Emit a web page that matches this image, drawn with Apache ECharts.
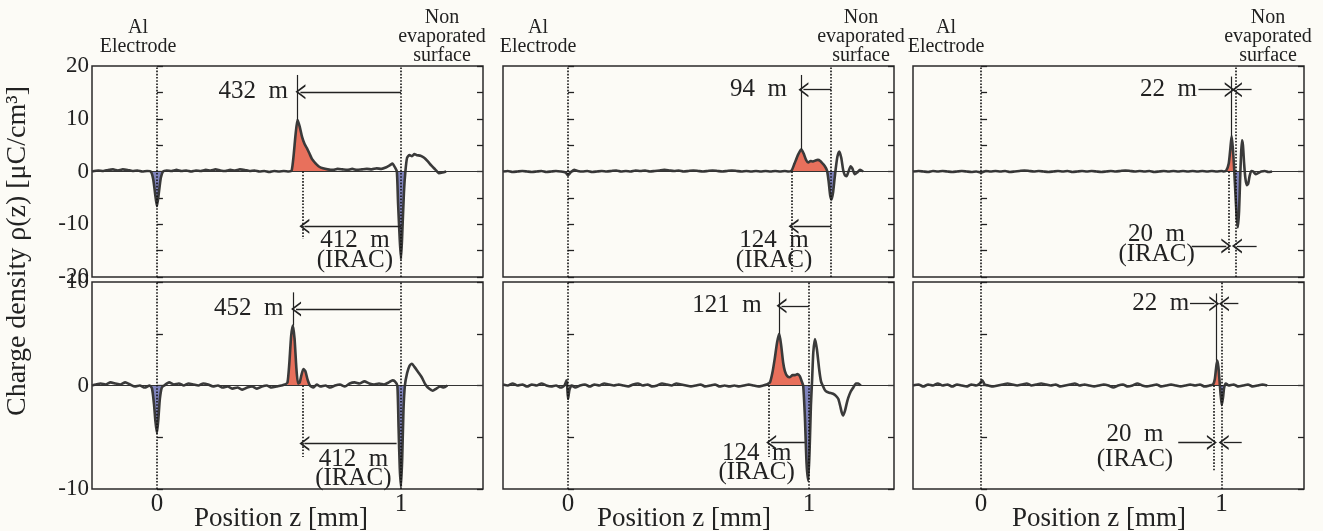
<!DOCTYPE html>
<html><head><meta charset="utf-8">
<script src="https://cdn.jsdelivr.net/npm/echarts@6/dist/echarts.min.js"></script>
<style>html,body{margin:0;padding:0;background:#fcfbf6}#c{width:1323px;height:531px}</style>
</head><body><div id="c"></div>
<script>
// ---------------- DATA ----------------
const xTickValues = [0, 1];
const headerLeft = 'Al\nElectrode';
const headerRight = 'Non\nevaporated\nsurface';
const xAxisTitle = 'Position z [mm]';
const yAxisTitle = 'Charge density ρ(z) [μC/cm³]';
const peakLabelsTop = ['432  m', '94  m', '22  m'];
const peakLabelsBottom = ['452  m', '121  m', '22  m'];
const iracLabels = ['412  m', '124  m', '20  m'];
const iracTag = '(IRAC)';

// column 1, top
const rhoA = [[-0.266,0.0],[-0.24,0.2],[-0.22,0.1],[-0.2,0.3],[-0.18,0.4],[-0.16,0.2],[-0.14,0.4],[-0.12,0.3],[-0.1,0.1],[-0.08,0.2],[-0.06,0.0],[-0.04,0.1],[-0.025,0.0],
[-0.015,-1.5],[-0.008,-4.0],[0.0,-6.6],[0.008,-4.0],[0.016,-1.2],[0.025,0.0],
[0.04,0.2],[0.06,0.1],[0.08,0.3],[0.1,0.1],[0.12,0.2],[0.14,0.0],[0.16,0.2],[0.18,0.1],[0.2,0.3],[0.22,0.2],[0.24,0.4],[0.26,0.2],[0.28,0.1],[0.3,0.3],[0.32,0.2],[0.34,0.4],[0.36,0.3],[0.38,0.1],[0.4,0.2],[0.42,0.0],[0.44,0.1],[0.46,-0.1],[0.48,0.1],[0.5,0.0],[0.52,0.1],[0.54,0.0],[0.552,0.2],
[0.56,3.0],[0.568,7.0],[0.576,9.8],[0.585,8.5],[0.595,6.5],[0.605,5.2],[0.615,4.4],[0.625,3.4],[0.635,2.4],[0.645,1.8],[0.655,1.3],[0.665,0.9],[0.68,0.6],[0.7,0.4],
[0.72,0.3],[0.74,0.5],[0.76,0.4],[0.78,0.3],[0.8,0.5],[0.82,0.3],[0.84,0.4],[0.86,0.5],[0.88,0.4],[0.9,0.6],[0.92,0.5],[0.94,0.8],[0.955,1.2],[0.965,1.5],[0.975,0.8],[0.983,0.0],
[0.988,-6],[0.995,-13],[1.0,-16.6],[1.005,-12],[1.012,-4],[1.018,0.0],
[1.025,2.6],[1.035,3.1],[1.045,2.9],[1.055,3.3],[1.065,3.1],[1.08,3.0],[1.095,2.6],[1.11,1.9],[1.125,1.1],[1.14,0.4],[1.155,-0.3],[1.17,-0.2],[1.185,0.0]];

// column 1, bottom
const rhoB = [[-0.266,0.0],[-0.25,0.1],[-0.23,0.2],[-0.21,0.1],[-0.19,0.3],[-0.17,0.2],[-0.15,0.1],[-0.13,0.3],[-0.11,0.1],[-0.09,-0.1],[-0.07,0.0],[-0.05,-0.2],[-0.03,0.0],[-0.02,-0.3],
[-0.012,-1.8],[-0.006,-3.5],[0.0,-4.6],[0.006,-3.2],[0.012,-1.3],[0.02,-0.2],
[0.03,0.0],[0.05,0.3],[0.07,0.1],[0.09,0.2],[0.11,0.0],[0.13,0.2],[0.15,0.1],[0.17,0.0],[0.19,0.2],[0.21,0.1],[0.23,-0.1],[0.25,0.0],[0.27,-0.2],[0.29,-0.1],[0.31,-0.3],[0.33,-0.2],[0.35,-0.4],[0.37,-0.2],[0.39,-0.1],[0.41,-0.3],[0.43,-0.1],[0.45,0.0],[0.47,-0.2],[0.49,-0.1],[0.51,0.0],[0.525,0.1],[0.535,0.3],
[0.542,2.0],[0.55,4.8],[0.557,5.8],[0.564,4.5],[0.571,1.8],[0.578,0.2],[0.585,0.3],
[0.592,1.0],[0.6,1.6],[0.608,1.4],[0.617,0.6],[0.627,0.0],[0.64,-0.2],[0.655,0.1],
[0.67,-0.1],[0.69,0.0],[0.71,-0.2],[0.73,0.0],[0.75,0.1],[0.77,-0.1],[0.79,0.2],[0.81,0.3],[0.83,0.2],[0.85,0.4],[0.87,0.2],[0.89,0.1],[0.91,0.2],[0.93,0.1],[0.95,0.3],[0.965,0.5],[0.975,0.4],[0.985,0.0],
[0.99,-4],[0.995,-8],[1.0,-9.8],[1.005,-7],[1.01,-2.5],[1.016,0.0],
[1.025,1.2],[1.035,1.9],[1.045,2.1],[1.055,1.8],[1.07,1.3],[1.085,0.8],[1.1,0.1],[1.115,-0.3],[1.13,-0.5],[1.145,-0.3],[1.16,-0.1],[1.175,-0.2],[1.19,0.0]];

// column 2, top
const rhoC = [[-0.27,0.0],[-0.25,0.1],[-0.23,-0.1],[-0.21,0.0],[-0.19,0.1],[-0.17,0.0],[-0.15,-0.1],[-0.13,0.0],[-0.11,0.1],[-0.09,-0.1],[-0.07,0.0],[-0.05,0.1],[-0.03,0.0],[-0.01,-0.2],[0.0,-0.7],[0.01,-0.2],[0.025,0.3],[0.04,0.1],[0.06,0.0],[0.08,0.1],[0.1,-0.1],[0.12,0.0],[0.14,0.1],[0.16,0.0],[0.18,0.1],[0.2,0.2],[0.22,0.0],[0.24,0.1],[0.26,0.0],[0.28,0.2],[0.3,0.1],[0.32,0.2],[0.34,0.0],[0.36,0.1],[0.38,0.2],[0.4,0.3],[0.42,0.2],[0.44,0.1],[0.46,0.2],[0.48,0.0],[0.5,0.1],[0.52,0.2],[0.54,0.1],[0.56,0.0],[0.58,0.1],[0.6,0.2],[0.62,0.1],[0.64,0.0],[0.66,0.1],[0.68,0.2],[0.7,0.1],[0.72,0.0],[0.74,0.1],[0.76,0.0],[0.78,0.1],[0.8,0.0],[0.82,0.1],[0.84,0.0],[0.86,0.1],[0.88,0.0],[0.9,0.1],[0.915,0.0],[0.928,0.2],
[0.94,1.5],[0.955,3.2],[0.968,4.2],[0.978,3.4],[0.988,2.2],[0.997,1.7],[1.007,2.0],[1.017,1.9],[1.027,2.1],[1.037,2.2],[1.047,2.0],[1.057,1.5],[1.066,1.0],[1.075,0.2],
[1.082,-2.0],[1.088,-4.5],[1.094,-5.3],[1.1,-4.0],[1.106,-1.5],[1.111,0.5],
[1.118,2.8],[1.126,3.8],[1.134,2.6],[1.142,0.3],[1.149,-0.7],[1.156,-0.9],[1.164,0.0],[1.173,1.0],[1.18,0.6],[1.19,-0.5],[1.2,-0.2],[1.212,0.3],[1.225,0.0]];

// column 2, bottom
const rhoD = [[-0.27,0.1],[-0.25,0.0],[-0.23,0.2],[-0.21,0.0],[-0.19,0.1],[-0.17,-0.1],[-0.15,0.1],[-0.13,0.0],[-0.11,0.2],[-0.09,0.0],[-0.07,-0.1],[-0.05,0.0],[-0.03,-0.2],[-0.015,0.0],[-0.006,0.5],[0.0,-1.3],[0.006,-0.4],[0.015,0.0],[0.03,-0.2],[0.05,0.0],[0.07,0.1],[0.09,-0.1],[0.11,0.1],[0.13,0.0],[0.15,0.2],[0.17,0.1],[0.19,0.0],[0.21,0.1],[0.23,0.0],[0.25,-0.1],[0.27,0.1],[0.29,0.2],[0.31,0.0],[0.33,0.1],[0.35,-0.1],[0.37,0.0],[0.39,0.2],[0.41,0.1],[0.43,0.0],[0.45,0.2],[0.47,0.1],[0.49,0.0],[0.51,-0.1],[0.53,0.0],[0.55,0.1],[0.57,-0.1],[0.59,0.0],[0.61,0.1],[0.63,-0.1],[0.65,0.0],[0.67,-0.1],[0.69,0.0],[0.71,-0.1],[0.73,0.0],[0.75,0.1],[0.77,0.0],[0.79,-0.1],[0.81,0.0],[0.825,0.1],[0.838,0.3],
[0.848,1.2],[0.858,2.6],[0.868,4.2],[0.877,5.0],[0.885,3.8],[0.893,2.2],[0.9,1.4],[0.91,0.9],[0.921,0.8],[0.932,1.0],[0.942,1.0],[0.952,1.1],[0.962,0.9],[0.97,0.4],[0.976,0.0],
[0.983,-3],[0.99,-7.5],[0.997,-9.2],[1.003,-6],[1.008,-2],[1.013,0.5],
[1.018,3.2],[1.025,4.5],[1.033,3.5],[1.043,1.45],[1.05,0.4],[1.057,0.0],[1.065,-0.4],[1.073,-0.6],[1.085,-0.7],[1.1,-0.8],[1.112,-1.0],[1.122,-1.3],[1.13,-2.0],[1.136,-2.6],[1.142,-2.9],[1.15,-2.4],[1.157,-1.7],[1.163,-1.2],[1.173,-0.6],[1.184,-0.2],[1.195,0.2],[1.205,0.2],[1.215,0.0]];

// column 3, top
const rhoE = [[-0.283,0.0],[-0.26,0.1],[-0.24,0.0],[-0.22,-0.1],[-0.2,0.1],[-0.18,0.0],[-0.16,0.1],[-0.14,0.0],[-0.12,-0.1],[-0.1,0.0],[-0.08,0.1],[-0.06,0.0],[-0.04,-0.1],[-0.02,0.0],[0.0,-0.2],[0.02,0.1],[0.04,0.0],[0.06,0.1],[0.08,0.0],[0.1,0.1],[0.12,-0.1],[0.14,0.0],[0.16,0.1],[0.18,0.2],[0.2,0.1],[0.22,0.0],[0.24,0.1],[0.26,0.0],[0.28,-0.1],[0.3,0.0],[0.32,0.1],[0.34,0.0],[0.36,0.1],[0.38,-0.1],[0.4,0.0],[0.42,0.1],[0.44,0.0],[0.46,0.1],[0.48,0.0],[0.5,-0.1],[0.52,0.0],[0.54,0.1],[0.56,0.0],[0.58,0.1],[0.6,0.2],[0.62,0.1],[0.64,0.0],[0.66,0.1],[0.68,0.0],[0.7,0.1],[0.72,-0.1],[0.74,0.0],[0.76,0.1],[0.78,0.0],[0.8,0.1],[0.82,0.0],[0.84,0.1],[0.86,0.0],[0.88,0.1],[0.9,0.0],[0.92,0.1],[0.94,0.0],[0.96,0.1],[0.98,0.0],[1.0,0.1],[1.01,0.0],[1.02,0.2],
[1.03,1.5],[1.036,4.0],[1.042,6.7],[1.047,4.5],[1.052,1.0],[1.057,-3.5],[1.063,-8.5],[1.068,-10.6],[1.073,-7.5],[1.077,-2.0],[1.081,3.0],[1.085,5.9],[1.089,5.0],[1.094,1.5],[1.099,-1.2],[1.105,-2.6],[1.111,-2.3],[1.117,-0.8],[1.124,0.1],[1.132,0.0],[1.142,-0.5],[1.152,-0.3],[1.165,0.0],[1.18,0.1],[1.195,-0.1],[1.21,0.0]];

// column 3, bottom
const rhoF = [[-0.283,0.0],[-0.26,0.1],[-0.24,-0.1],[-0.22,0.1],[-0.2,0.0],[-0.18,0.2],[-0.16,0.0],[-0.14,0.1],[-0.12,-0.1],[-0.1,0.1],[-0.08,0.0],[-0.06,-0.1],[-0.04,0.1],[-0.02,0.0],[-0.005,0.2],[0.005,0.5],[0.015,0.1],[0.03,0.0],[0.05,-0.1],[0.07,0.0],[0.09,0.1],[0.11,0.2],[0.13,0.1],[0.15,0.0],[0.17,0.1],[0.19,0.2],[0.21,0.0],[0.23,0.1],[0.25,0.2],[0.27,0.1],[0.29,0.0],[0.31,0.1],[0.33,-0.1],[0.35,0.0],[0.37,0.1],[0.39,0.2],[0.41,0.0],[0.43,0.1],[0.45,0.0],[0.47,-0.1],[0.49,0.0],[0.51,0.1],[0.53,0.0],[0.55,-0.2],[0.57,0.0],[0.59,0.1],[0.61,-0.1],[0.63,0.0],[0.65,0.2],[0.67,0.0],[0.69,-0.1],[0.71,0.0],[0.73,0.1],[0.75,-0.1],[0.77,0.0],[0.79,0.1],[0.81,0.0],[0.83,-0.1],[0.85,0.0],[0.87,0.1],[0.89,0.0],[0.91,0.1],[0.93,-0.1],[0.95,0.0],[0.965,0.1],
[0.972,0.6],[0.977,1.6],[0.982,2.4],[0.987,1.8],[0.992,0.4],[0.996,-0.8],[1.001,-1.9],[1.006,-1.2],[1.011,-0.2],[1.018,0.2],[1.03,0.0],[1.05,0.1],[1.07,-0.1],[1.09,0.0],[1.11,0.1],[1.13,-0.1],[1.15,0.0],[1.17,0.1],[1.19,0.0]];

// ---------------- STYLE / LAYOUT ----------------
const SERIF = '"Liberation Serif", "Times New Roman", serif';
const INK = '#222222';
const LINE = '#3a3a3a';
const RED = '#e8705c';
const BLUE = '#8084bd';
const CHEV = 'path://M0,10 L5,0 L10,10 L8.6,10 L5,2.8 L1.4,10 Z';

const cols = [{left:92, x0:-0.266, x1:1.336}, {left:503, x0:-0.27, x1:1.353}, {left:913, x0:-0.283, x1:1.343}];
const rows = [{top:66, height:211, min:-20, max:20}, {top:282, height:207, min:-10, max:10}];
const headerLeftX = [138, 538, 946];
const headerRightX = [442, 861, 1268];
const xTitleX = [281, 684, 1099];

const panels = [
 {c:0,r:0,data:rhoA, red:[[0.552,0.72]], blue:[[-0.025,0.025],[0.983,1.018]], surf:1.0,
  vline:[0.576,18.3,9.8], dot:[0.596,0,-12.8], arrows:[[1.0,0.588,15.1],[1.0,0.604,-10.4]],
  peakText:[peakLabelsTop[0],0.537,15.1], irac:[iracLabels[0],0.811,-13.0,-16.8]},
 {c:0,r:1,data:rhoB, red:[[0.535,0.627]], blue:[[-0.02,0.02],[0.985,1.016]], surf:1.0,
  vline:[0.557,9.0,5.8], dot:[0.597,0,-6.9], arrows:[[0.996,0.57,7.4],[0.982,0.604,-5.6]],
  peakText:[peakLabelsBottom[0],0.518,7.4], irac:[iracLabels[0],0.805,-7.1,-9.0]},
 {c:1,r:0,data:rhoC, red:[[0.928,1.075]], blue:[[1.075,1.111]], surf:1.092,
  vline:[0.968,18.3,4.2], dot:[0.928,0,-19], arrows:[[1.092,0.977,15.5],[1.092,0.936,-10.4]],
  peakText:[peakLabelsTop[1],0.909,15.5], irac:[iracLabels[1],0.855,-13.0,-16.8]},
 {c:1,r:1,data:rhoD, red:[[0.838,0.976]], blue:[[0.976,1.013]], surf:1.0,
  vline:[0.877,9.0,5.0], dot:[0.835,0,-6.9], arrows:[[1.0,0.886,7.7],[0.983,0.843,-5.5]],
  peakText:[peakLabelsBottom[1],0.804,7.7], irac:[iracLabels[1],0.783,-6.6,-8.4]},
 {c:2,r:0,data:rhoE, red:[[1.02,1.054]], blue:[[1.054,1.079]], surf:1.056,
  vline:[1.042,18.0,6.7], dot:[1.028,0,-15.7],
  arrows:[[0.904,1.034,15.5],[1.125,1.064,15.5],[0.876,1.02,-14.1],[1.146,1.064,-14.1]],
  peakText:[peakLabelsTop[2],0.898,15.5], irac:[iracLabels[2],0.73,-12.0,-15.8]},
 {c:2,r:1,data:rhoF, red:[[0.965,0.993]], blue:[[0.993,1.013]], surf:1.0,
  vline:[0.979,8.9,2.4], dot:[0.968,0,-8.2],
  arrows:[[0.869,0.97,7.9],[1.07,1.01,7.9],[0.82,0.96,-5.5],[1.084,1.009,-5.5]],
  peakText:[peakLabelsBottom[2],0.866,7.9], irac:[iracLabels[2],0.64,-4.7,-7.1]}
];

const seg = (d, a, b) => d.filter(p => p[0] >= a - 1e-9 && p[0] <= b + 1e-9);
const dotted = {type:'dotted', width:1.6, color:'#111', opacity:1};

const grid = [], xAxis = [], yAxis = [], series = [];
panels.forEach((p, i) => {
  const C = cols[p.c], R = rows[p.r];
  grid.push({left:C.left, top:R.top, width:391, height:R.height, show:true, containLabel:false,
    outerBoundsMode:'none',
    borderColor:'#2a2a2a', borderWidth:1.5, backgroundColor:'transparent'});
  xAxis.push({type:'value', gridIndex:i, min:C.x0, max:C.x1,
    axisLine:{show:false}, axisTick:{show:false}, splitLine:{show:false},
    axisLabel: p.r === 1 ? {show:true, customValues:xTickValues, fontSize:25, fontFamily:SERIF, color:INK, margin:3} : {show:false}});
  ['left','right'].forEach(pos => {
    yAxis.push({type:'value', gridIndex:i, position:pos, min:R.min, max:R.max, interval:5,
      axisLine:{show:false}, splitLine:{show:false},
      axisTick:{show:true, inside:true, length:6, lineStyle:{color:INK, width:1.3}},
      axisLabel: (pos === 'left' && p.c === 0) ?
        {show:true, formatter: v => (v % 10 === 0 ? String(v) : ''), fontSize:23, fontFamily:SERIF, color:INK, margin:3} :
        {show:false}});
  });
  const fills = p.red.map(s => [s, RED]).concat(p.blue.map(s => [s, BLUE]));
  fills.forEach(([s, col]) => {
    series.push({type:'line', xAxisIndex:i, yAxisIndex:2*i, data:seg(p.data, s[0], s[1]),
      smooth:0.2, symbol:'none', silent:true, z:2, animation:false,
      lineStyle:{width:0}, areaStyle:{color:col, opacity:1}});
  });
  const ml = [
    {yAxis:0, lineStyle:{type:'solid', width:1.2, color:'#333'}},
    {xAxis:0, lineStyle:dotted},
    {xAxis:p.surf, lineStyle:dotted},
    [{coord:[p.dot[0], p.dot[1]], lineStyle:dotted}, {coord:[p.dot[0], p.dot[2]]}],
    [{coord:[p.vline[0], p.vline[1]], lineStyle:{type:'solid', width:1.2, color:'#222'}}, {coord:[p.vline[0], p.vline[2]]}]
  ];
  p.arrows.forEach(a => {
    ml.push([{coord:[a[0], a[2]], symbol:'none', lineStyle:{type:'solid', width:1.3, color:'#222'}},
             {coord:[a[1], a[2]], symbol:CHEV, symbolSize:[15, 10]}]);
  });
  const lab = (txt, z, y, pos) => ({coord:[z, y], symbol:'circle', symbolSize:0,
    label:{show:true, formatter:txt, position:pos, distance:0, fontSize:25, fontFamily:SERIF, color:INK}});
  series.push({type:'line', xAxisIndex:i, yAxisIndex:2*i, data:p.data, smooth:0.2,
    symbol:'none', z:3, animation:false,
    lineStyle:{color:LINE, width:2.6},
    markLine:{silent:true, animation:false, symbol:['none','none'], label:{show:false}, data:ml},
    markPoint:{silent:true, animation:false, data:[
      lab(p.peakText[0], p.peakText[1], p.peakText[2], 'left'),
      lab(p.irac[0], p.irac[1], p.irac[2], 'inside'),
      lab(iracTag, p.irac[1], p.irac[3], 'inside')
    ]}});
});

const graphic = [];
headerLeftX.forEach(x => graphic.push({type:'text', x:x, y:37.5, silent:true,
  style:{text:headerLeft, align:'center', verticalAlign:'middle', fontSize:20, lineHeight:19, fontFamily:SERIF, fill:INK}}));
headerRightX.forEach(x => graphic.push({type:'text', x:x, y:37, silent:true,
  style:{text:headerRight, align:'center', verticalAlign:'middle', fontSize:20, lineHeight:19, fontFamily:SERIF, fill:INK}}));
xTitleX.forEach(x => graphic.push({type:'text', x:x, y:519, silent:true,
  style:{text:xAxisTitle, align:'center', verticalAlign:'middle', fontSize:27, fontFamily:SERIF, fill:INK}}));
graphic.push({type:'text', x:18, y:251, rotation:Math.PI/2, silent:true,
  style:{text:yAxisTitle, align:'center', verticalAlign:'middle', fontSize:28, fontFamily:SERIF, fill:INK}});

const chart = echarts.init(document.getElementById('c'), null, {renderer:'canvas'});
chart.setOption({backgroundColor:'#fcfbf6', animation:false, grid, xAxis, yAxis, series, graphic});
</script></body></html>
